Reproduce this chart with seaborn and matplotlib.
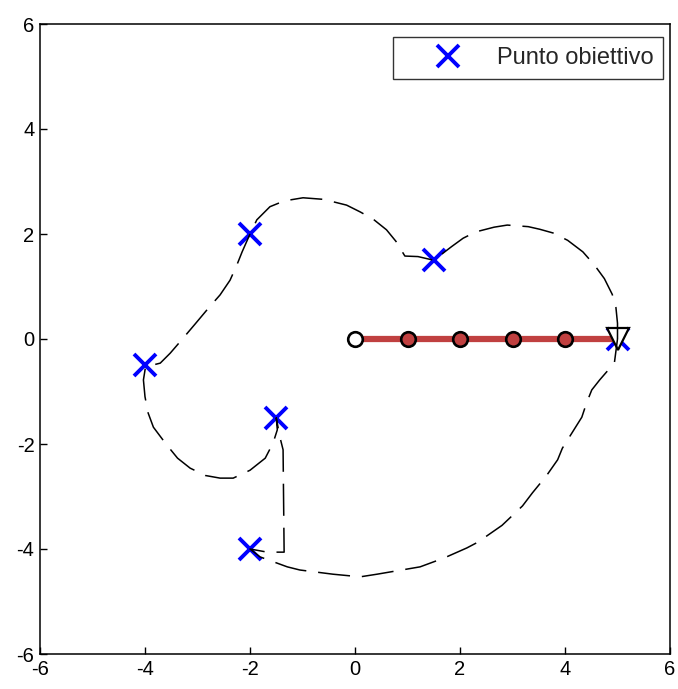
import numpy as np
import pandas as pd
import matplotlib
matplotlib.use("Agg")
import matplotlib.pyplot as plt
import seaborn as sns

# ---- data ----
target_x = [-2.0, 1.5, -4.0, -1.5, -2.0, 5.0]
target_y = [2.0, 1.5, -0.5, -1.5, -4.0, 0.0]

joint_x = [0, 1, 2, 3, 4, 5]
joint_y = [0, 0, 0, 0, 0, 0]

path_x = [5.0, 5.0, 4.97, 4.9, 4.75, 4.56, 4.34, 4.05, 3.77, 3.52, 3.3, 2.9, 2.65, 2.3, 2.06, 1.84, 1.5,
          1.2, 0.95, 0.78, 0.6, 0.35, 0.1, -0.16, -0.6, -0.99, -1.35, -1.62, -1.87, -2.0, -2.15, -2.25, -2.38, -2.57, -2.79,
          -3.05, -3.33, -3.52, -3.71, -3.99,
          -4.03, -4.0, -3.94, -3.84, -3.6, -3.38, -3.14, -2.85, -2.57, -2.32, -2.0, -1.71, -1.56, -1.48, -1.5,
          -1.43, -1.37, -1.35, -1.67, -2.0,
          -1.81, -1.29, -1.05, -0.42, 0.1, 0.42, 1.24, 1.7, 2.13, 2.34, 2.8, 3.19, 3.38, 3.65, 3.86, 3.95, 4.32, 4.41,
          4.51, 4.66, 4.79, 4.94, 5.0]
path_y = [0.0, 0.3, 0.6, 0.85, 1.15, 1.41, 1.66, 1.88, 2.02, 2.09, 2.14, 2.17, 2.13, 2.04, 1.92, 1.76, 1.5,
          1.57, 1.58, 1.86, 2.08, 2.28, 2.42, 2.55, 2.66, 2.69, 2.63, 2.52, 2.27, 2.0, 1.66, 1.41, 1.12, 0.84, 0.59,
          0.28, -0.05, -0.27, -0.46, -0.53,
          -0.78, -1.1, -1.41, -1.68, -2.0, -2.27, -2.46, -2.6, -2.65, -2.65, -2.5, -2.27, -1.98, -1.73, -1.5,
          -1.87, -2.11, -4.06, -4.06, -4.0,
          -4.15, -4.34, -4.40, -4.48, -4.53, -4.48, -4.34, -4.17, -3.98, -3.87, -3.55, -3.18, -2.93, -2.6, -2.3, -2.08, -1.49, -1.22,
          -0.97, -0.78, -0.63, -0.46, 0.0]

tick_vals = [-6, -4, -2, 0, 2, 4, 6]
legend_label = "Punto obiettivo"

# ---- style ----
sns.set_theme(style="white")
plt.rcParams['font.family'] = ['Liberation Sans', 'DejaVu Sans']

fig = plt.figure(figsize=(6.78, 6.89), dpi=100)
ax = fig.add_axes([40 / 678, 1 - 654 / 689, 630 / 678, 630 / 689])

targets = pd.DataFrame({"x": target_x, "y": target_y})
joints = pd.DataFrame({"x": joint_x, "y": joint_y})
path = pd.DataFrame({"x": path_x, "y": path_y})

# target points
ax.plot(targets["x"], targets["y"], linestyle="none", marker="x", color="#0000ff",
        markersize=16.5, markeredgewidth=2.8, zorder=2, label=legend_label)

# red chain
sns.lineplot(data=joints, x="x", y="y", ax=ax, color="#c04040", linewidth=4.5,
             sort=False, estimator=None, zorder=3)
fills = ["white"] + ["#c04040"] * 4
for i in range(5):
    ax.plot(joints["x"].iloc[i], joints["y"].iloc[i], marker="o", markersize=10.5,
            markerfacecolor=fills[i], markeredgecolor="black", markeredgewidth=1.9,
            linestyle="none", zorder=4)
ax.plot(joints["x"].iloc[5], joints["y"].iloc[5], marker="v", markersize=16,
        markerfacecolor="white", markeredgecolor="black", markeredgewidth=1.6,
        linestyle="none", zorder=4)

# dashed trajectory
sns.lineplot(data=path, x="x", y="y", ax=ax, color="black", linewidth=1.1,
             sort=False, estimator=None, zorder=5)
ax.lines[-1].set_dashes([21, 7.8])

ax.set_xlim(-6, 6)
ax.set_ylim(-6, 6)
ax.set_xticks(tick_vals)
ax.set_yticks(tick_vals)
ax.set_xticklabels([str(v) for v in tick_vals])
ax.set_yticklabels([str(v) for v in tick_vals])
ax.set_xlabel("")
ax.set_ylabel("")
ax.tick_params(direction="in", length=5, width=1, labelsize=14.5, colors="black",
               left=True, bottom=True, pad=4)
for s in ax.spines.values():
    s.set_color("black")
    s.set_linewidth(1.1)

handles, labels = ax.get_legend_handles_labels()
leg = ax.legend(handles=[handles[labels.index(legend_label)]], labels=[legend_label],
                loc="upper right", bbox_to_anchor=(0.989, 0.979), fontsize=17,
                frameon=True, fancybox=False, shadow=False, borderpad=0.42,
                handlelength=3.75, handletextpad=0.2, borderaxespad=0)
leg.get_frame().set_edgecolor("black")
leg.get_frame().set_linewidth(1.0)

fig.savefig("out.png", dpi=100)
